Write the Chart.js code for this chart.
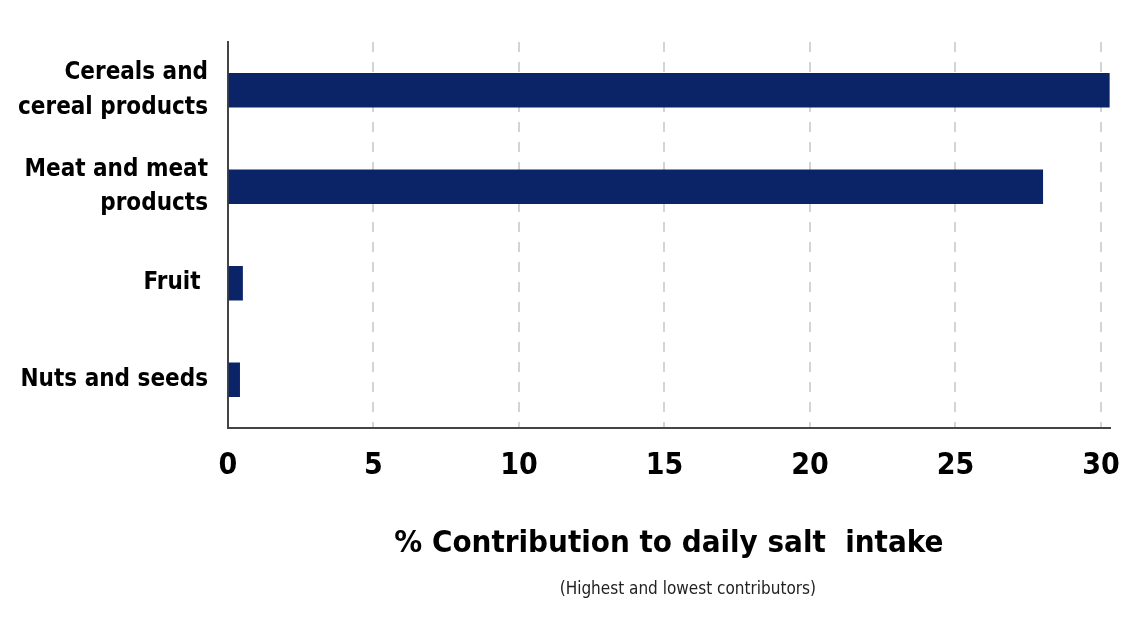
<!DOCTYPE html>
<html>
<head>
<meta charset="utf-8">
<script src="https://cdn.jsdelivr.net/npm/chart.js@4"></script>
<style>
  html, body { margin: 0; padding: 0; background: #fff; }
  #wrap { width: 1140px; height: 641px; }
</style>
</head>
<body>
<div id="wrap"><canvas id="chart" width="1140" height="641"></canvas></div>
<script>
const categories = [['Cereals and', 'cereal products'], ['Meat and meat', 'products'], 'Fruit ', 'Nuts and seeds'];
const contribution = [30.3, 28.0, 0.5, 0.4];
const xTicks = [0, 5, 10, 15, 20, 25, 30];

const FONT = '"DejaVu Sans Condensed", "Liberation Sans Narrow", Arial, sans-serif';

// second line under the axis title, drawn in smaller type
const subtitleLine = {
  id: 'subtitleLine',
  afterDraw(chart) {
    const ctx = chart.ctx;
    const area = chart.chartArea;
    const x = (area.left + area.right) / 2 + 19;
    ctx.save();
    ctx.font = '17px ' + FONT;
    ctx.fillStyle = '#222';
    ctx.textAlign = 'center';
    ctx.textBaseline = 'middle';
    ctx.fillText('(Highest and lowest contributors)', x, chart.scales.x.bottom + 13);
    ctx.restore();
  }
};

new Chart(document.getElementById('chart'), {
  type: 'bar',
  data: {
    labels: categories,
    datasets: [{
      data: contribution,
      backgroundColor: '#0b2468',
      borderWidth: 0,
      barThickness: 34
    }]
  },
  options: {
    indexAxis: 'y',
    responsive: false,
    animation: false,
    layout: { padding: { top: 42, right: 30, bottom: 64, left: 0 } },
    plugins: {
      legend: { display: false },
      tooltip: { enabled: false }
    },
    scales: {
      x: {
        min: 0,
        max: 30.3,
        afterBuildTicks: s => { s.ticks = xTicks.map(v => ({ value: v })); },
        afterFit: s => { s.height = 149; },
        grid: {
          drawTicks: false,
          lineWidth: 2,
          color: ctx => ctx.tick && ctx.tick.value === 0 ? 'rgba(0,0,0,0)' : '#d4d4d4'
        },
        border: { display: true, color: '#444', width: 2, dash: [10, 10] },
        ticks: {
          padding: 20,
          color: '#000',
          font: { family: FONT, size: 30, weight: 'bold' }
        },
        title: {
          display: true,
          text: '% Contribution to daily salt  intake',
          color: '#000',
          font: { family: FONT, size: 31, weight: 'bold' },
          padding: { top: 0, bottom: 14 }
        }
      },
      y: {
        afterFit: s => { s.width = 228; },
        grid: { display: false, drawTicks: false },
        border: { display: true, color: '#444', width: 2 },
        ticks: {
          padding: 20,
          color: '#000',
          font: { family: FONT, size: 24, weight: 'bold', lineHeight: 1.45 }
        }
      }
    }
  },
  plugins: [subtitleLine]
});
</script>
</body>
</html>
